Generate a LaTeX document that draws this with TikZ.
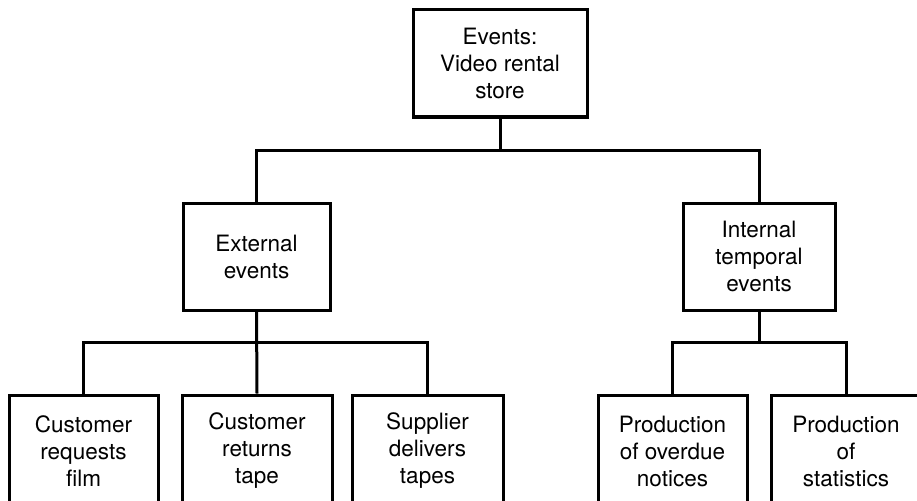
\documentclass[tikz,border=0pt]{standalone}
\usepackage{fontspec}
\setmainfont{TeX Gyre Heros}
\begin{document}
\begin{tikzpicture}[x=1pt,y=1pt,
  line width=3pt,
  evbox/.style={draw, rectangle, align=center, inner sep=2pt,
    font=\fontsize{22.5}{27}\selectfont},
  topbox/.style={evbox, minimum width=174pt, minimum height=107pt},
  midbox/.style={evbox, minimum height=107pt},
  leafbox/.style={evbox, minimum width=150pt, minimum height=112pt},
  link/.style={line cap=rect}]
\useasboundingbox (0,0) rectangle (917,-500);
\clip (0,0) rectangle (917,-500);

% root of the event hierarchy
\node[topbox] (root) at (500,-63.5) {Events:\\Video rental\\store};

% the two event categories
\node[midbox, minimum width=147pt] (ext) at (256.5,-256.5) {External\\events};
\node[midbox, minimum width=152pt] (int) at (759,-256.5) {Internal\\temporal\\events};

% individual events
\node[leafbox, minimum width=149pt] (req) at (83.5,-451) {Customer\\requests\\film};
\node[leafbox] (ret) at (257,-451) {Customer\\returns\\tape};
\node[leafbox, minimum width=151pt] (sup) at (427.5,-451) {Supplier\\delivers\\tapes};
\node[leafbox, minimum width=149pt] (ovd) at (672.5,-451) {Production\\of overdue\\notices};
\node[leafbox] (sta) at (846,-451) {Production\\of\\statistics};

% bus lines joining parents to children
\coordinate (busTop) at (500,-150);
\coordinate (busExt) at (256,-342);
\coordinate (busInt) at (760,-342);

\draw (root.south) -- (busTop);
\draw (ext.north) |- (busTop) -| (int.north);

\draw (ext.south) -- (ret.north);
\draw (req.north) |- (busExt) -| (sup.north);

\draw (int.south) -- (int.south |- busInt);
\draw (ovd.north) |- (busInt) -| (sta.north);
\end{tikzpicture}
\end{document}
